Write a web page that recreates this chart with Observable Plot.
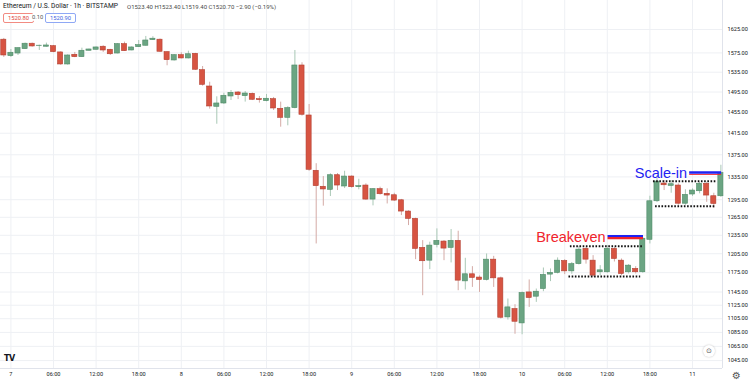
<!DOCTYPE html>
<html><head><meta charset="utf-8">
<script src="https://cdn.jsdelivr.net/npm/d3@7"></script>
<script src="https://cdn.jsdelivr.net/npm/@observablehq/plot@0.6"></script>
<style>
body{margin:0;background:#fff;font-family:Roboto,"Liberation Sans",sans-serif;}
#wrap{position:relative;width:752px;height:383px;overflow:hidden;}
#hdr{position:absolute;left:3px;top:2px;color:#131722;white-space:nowrap;}
#hdr .t{font-size:6.7px;position:absolute;left:0;top:0;}
#hdr .o{font-size:6px;position:absolute;left:124px;top:1px;color:#4a4a4a;}
.box{position:absolute;top:11px;height:8px;font-size:5.8px;line-height:8px;padding:0 4px;border-radius:2px;background:#fff;}
#logo{position:absolute;left:4px;top:354px;font:bold 8px "DejaVu Sans",sans-serif;color:#131722;letter-spacing:-0.5px;}
#gear{position:absolute;left:732px;top:370px;font:10px "DejaVu Sans",sans-serif;color:#555;}
#btn{position:absolute;left:703px;top:345px;width:12px;height:12px;border-radius:50%;background:#fff;box-shadow:0 0 2px rgba(0,0,0,0.25);font:7px "DejaVu Sans",sans-serif;color:#555;text-align:center;line-height:12px;}
</style></head><body>
<div id="wrap"><div id="chart"></div>
<div id="hdr"><span class="t">Ethereum / U.S. Dollar · 1h · BITSTAMP</span>
<span class="o">O1523.40 H1523.40 L1519.40 C1520.70 −2.90 (−0.19%)</span>
<span class="box" style="left:0;border:1px solid #f28b82;color:#e0443a">1520.80</span>
<span class="box" style="left:29px;color:#555;padding:0">0.10</span>
<span class="box" style="left:42px;border:1px solid #8fa8f5;color:#3d63e0">1520.90</span>
</div>
<div id="logo">TV</div><div id="btn">⊙</div><div id="gear">⚙</div>
</div>
<script>
const opens  = [1603,1568.2,1573.7,1582.9,1594.4,1589.5,1588,1589.2,1576,1550.9,1571,1566.1,1579.5,1581.6,1588,1581.6,1573.7,1593.5,1580.1,1587.1,1590.1,1602.1,1603,1576.6,1559.2,1570.2,1563.4,1573.1,1539.2,1506,1465.8,1472.3,1486.1,1494,1486.7,1491.4,1480.8,1476.9,1480.8,1461.9,1444.4,1463.2,1548.8,1448.9,1345.9,1317.5,1312.2,1338,1318,1335.6,1316.8,1319.7,1295.2,1313.3,1305.2,1302.7,1294,1274.7,1262.3,1214.4,1193.9,1219.3,1224.7,1214.4,1225.8,1161.4,1172.4,1167.3,1163.6,1195.5,1166.1,1106.9,1119.3,1098.1,1144.4,1137.9,1149.6,1171.9,1174.6,1193.4,1177,1188.4,1212.8,1193.9,1175.6,1175.6,1212.8,1193.9,1175.6,1180.8,1175.6,1227.6,1292.3,1323.2,1319.1,1319.7,1288.1,1304,1309.7,1322.7,1301,1301];
const highs  = [1605.7,1582.2,1585.5,1595.7,1595.7,1591.4,1595.7,1590.7,1577,1571,1576,1585,1583,1587.5,1590.1,1582.5,1594.5,1597.8,1587.5,1601.3,1610,1609.4,1604.5,1577.5,1571.5,1575.3,1578.6,1574,1546.7,1514.6,1485.5,1492.6,1498,1496,1496,1493,1486.1,1490,1484.2,1474.9,1466,1580.1,1554.4,1470.3,1358.7,1335.6,1340.5,1341,1345.1,1337,1330.8,1322.7,1314.5,1316.8,1313.9,1306.2,1295.5,1276,1263.5,1226.3,1223.7,1245.6,1226.3,1244.5,1241.7,1197.7,1184.4,1170,1204.6,1200.8,1168,1134.4,1125.8,1145,1163.6,1149.6,1182.3,1180.8,1198.3,1195.5,1191,1217,1215.4,1201.9,1186,1218.1,1215.4,1196.6,1187.6,1184.4,1231,1301,1336.9,1328.5,1328.5,1322.7,1312.2,1313.9,1325.5,1325.5,1306.2,1355.9];
const lows   = [1565.5,1565.5,1569.6,1582.2,1587.1,1580.1,1587.1,1575.3,1549.5,1549.5,1565,1565.5,1579,1581,1576,1569.6,1573,1578,1579.5,1586.5,1589.5,1601.5,1576.5,1548.2,1558,1562.5,1562.5,1539,1506.6,1461.2,1432.1,1470.3,1478.2,1480,1475,1478,1473,1475.5,1458.6,1426.5,1429.1,1461.8,1447.6,1345,1220.8,1283.9,1300.5,1310.9,1314.4,1315,1312.2,1294,1284.4,1303,1287.7,1292,1267.9,1251.1,1195.5,1139.4,1179.7,1214.4,1193.9,1190.3,1147,1148.1,1152.1,1144.4,1162,1152.1,1104.5,1103,1082.3,1081.6,1121.8,1129.3,1145.5,1161,1173,1171.9,1172.5,1187,1188.4,1167.6,1170.3,1174,1191.8,1170.3,1172.9,1172.9,1174,1220.8,1290,1310.9,1306.2,1285.4,1285.4,1300.5,1305.2,1290.5,1280.3,1299];
const closes = [1569.6,1575.3,1585,1594.4,1588.6,1590.2,1590.7,1576.6,1550.9,1569.6,1566.1,1579.5,1582.2,1586.5,1580.1,1572.2,1593.5,1578.6,1586.5,1591.4,1601.3,1605.1,1577.4,1559.8,1570.2,1563.4,1572.2,1540,1509.4,1466.4,1472.3,1487.5,1493.4,1488.7,1492,1479.6,1478.8,1481.6,1462.5,1444.4,1463.2,1548.8,1450.3,1347.7,1318.6,1312.8,1338,1319.7,1335.6,1316.8,1318.6,1295.2,1313.3,1304.5,1302.2,1293.5,1274.7,1262.3,1212.8,1193,1218.1,1225.8,1213.3,1225.8,1162.5,1172.4,1166.8,1163.6,1195.5,1166.1,1106.4,1121.8,1100.5,1143.5,1135.9,1145.5,1171.4,1174.6,1193.9,1177,1188.4,1211.6,1195.5,1170.3,1178.6,1212.8,1196.6,1172.9,1186,1175.6,1229.3,1292.3,1326.7,1320.2,1322,1288.1,1303.4,1310.9,1322.7,1302.2,1287.7,1341.6];
// hour offsets from 7 Jan 00:00 (first candle is the 23:00 bar of the previous day)
const firstHour = -1;
const priceTicks = [1045,1065,1085,1105,1125,1145,1175,1205,1235,1265,1295,1335,1375,1415,1455,1495,1535,1575,1625];
const timeTickHours = [0,6,12,18,24,30,36,42,48,54,60,66,72,78,84,90,96];
const timeTickLabels = ["7","06:00","12:00","18:00","8","06:00","12:00","18:00","9","06:00","12:00","18:00","10","06:00","12:00","18:00","11"];
// annotations (hour, price)
const dottedLevels = [
  {h1:78.8, h2:89.1, price:1217},
  {h1:78.6, h2:88.7, price:1168.8},
  {h1:90.5, h2:99.5, price:1327.3},
  {h1:90.8, h2:99.3, price:1283.7}
];
const breakeven = [{label:"Breakeven", h1:84.1, h2:89.1, price:1232}];
const scaleIn = [{label:"Scale-in", h1:95.6, h2:100.1, price:1342}];

const bars = opens.map((o,i)=>({h:firstHour+i, o, hi:highs[i], lo:lows[i], c:closes[i], up: closes[i] >= o}));
const tickLabel = new Map(timeTickHours.map((h,i)=>[h,timeTickLabels[i]]));
const xDomain = [-1.465, 100.225];
const yDomain = [1034, 1689];
const labelFont = "'Liberation Sans', Arial, sans-serif";

const chart = Plot.plot({
  width:752, height:383,
  marginLeft:0, marginRight:30, marginTop:0, marginBottom:15,
  style:{fontFamily:"Roboto, 'Liberation Sans', sans-serif", fontSize:"6px", color:"#131722", background:"#fff", overflow:"visible"},
  x:{domain:xDomain, axis:null},
  y:{type:"log", domain:yDomain, axis:null},
  marks:[
    Plot.gridY(priceTicks, {stroke:"#eef0f4", strokeOpacity:1}),
    Plot.gridX(timeTickHours, {stroke:"#eef0f4", strokeOpacity:1}),
    Plot.ruleX([xDomain[1]], {stroke:"#e0e3eb", y1:yDomain[0], y2:yDomain[1]}),
    Plot.ruleY([yDomain[0]], {stroke:"#e0e3eb"}),
    Plot.axisY(priceTicks, {anchor:"right", tickSize:0, tickPadding:5, tickFormat:d=>d.toFixed(2), fill:"#131722", fontSize:5.6}),
    Plot.axisX(timeTickHours, {anchor:"bottom", tickSize:0, tickPadding:4, tickFormat:d=>tickLabel.get(d), fill:"#131722", fontSize:5.6}),
    Plot.ruleX(bars, {x:"h", y1:"lo", y2:"hi", stroke:d=>d.up?"#a9c8b6":"#d4aaa6", strokeWidth:1}),
    Plot.rect(bars, {x1:d=>d.h-0.36, x2:d=>d.h+0.36, y1:"o", y2:"c", fill:d=>d.up?"#6ba583":"#d75442", stroke:d=>d.up?"#4e8a66":"#b33f31", strokeWidth:0.6}),
    Plot.ruleY(dottedLevels, {y:"price", x1:"h1", x2:"h2", stroke:"#111", strokeWidth:2, strokeDasharray:"1.6,1.6"}),
    Plot.ruleY(breakeven, {y:"price", x1:"h1", x2:"h2", stroke:"#f0242c", strokeWidth:2.2, dy:1.1}),
    Plot.ruleY(breakeven, {y:"price", x1:"h1", x2:"h2", stroke:"#1f22f2", strokeWidth:2.2, dy:-1.1}),
    Plot.ruleY(scaleIn, {y:"price", x1:"h1", x2:"h2", stroke:"#f0242c", strokeWidth:1, dy:1.4}),
    Plot.ruleY(scaleIn, {y:"price", x1:"h1", x2:"h2", stroke:"#1f22f2", strokeWidth:2.4, dy:-0.4}),
    Plot.text(breakeven, {x:"h1", y:"price", text:"label", fill:"#f0242c", textAnchor:"end", lineAnchor:"bottom", dx:-2.5, dy:5, fontSize:14.5, fontFamily:labelFont}),
    Plot.text(scaleIn, {x:"h1", y:"price", text:"label", fill:"#1f22f2", textAnchor:"end", lineAnchor:"bottom", dx:-2.5, dy:5, fontSize:14.5, fontFamily:labelFont})
  ]
});
document.getElementById("chart").appendChild(chart);
</script>
</body></html>
